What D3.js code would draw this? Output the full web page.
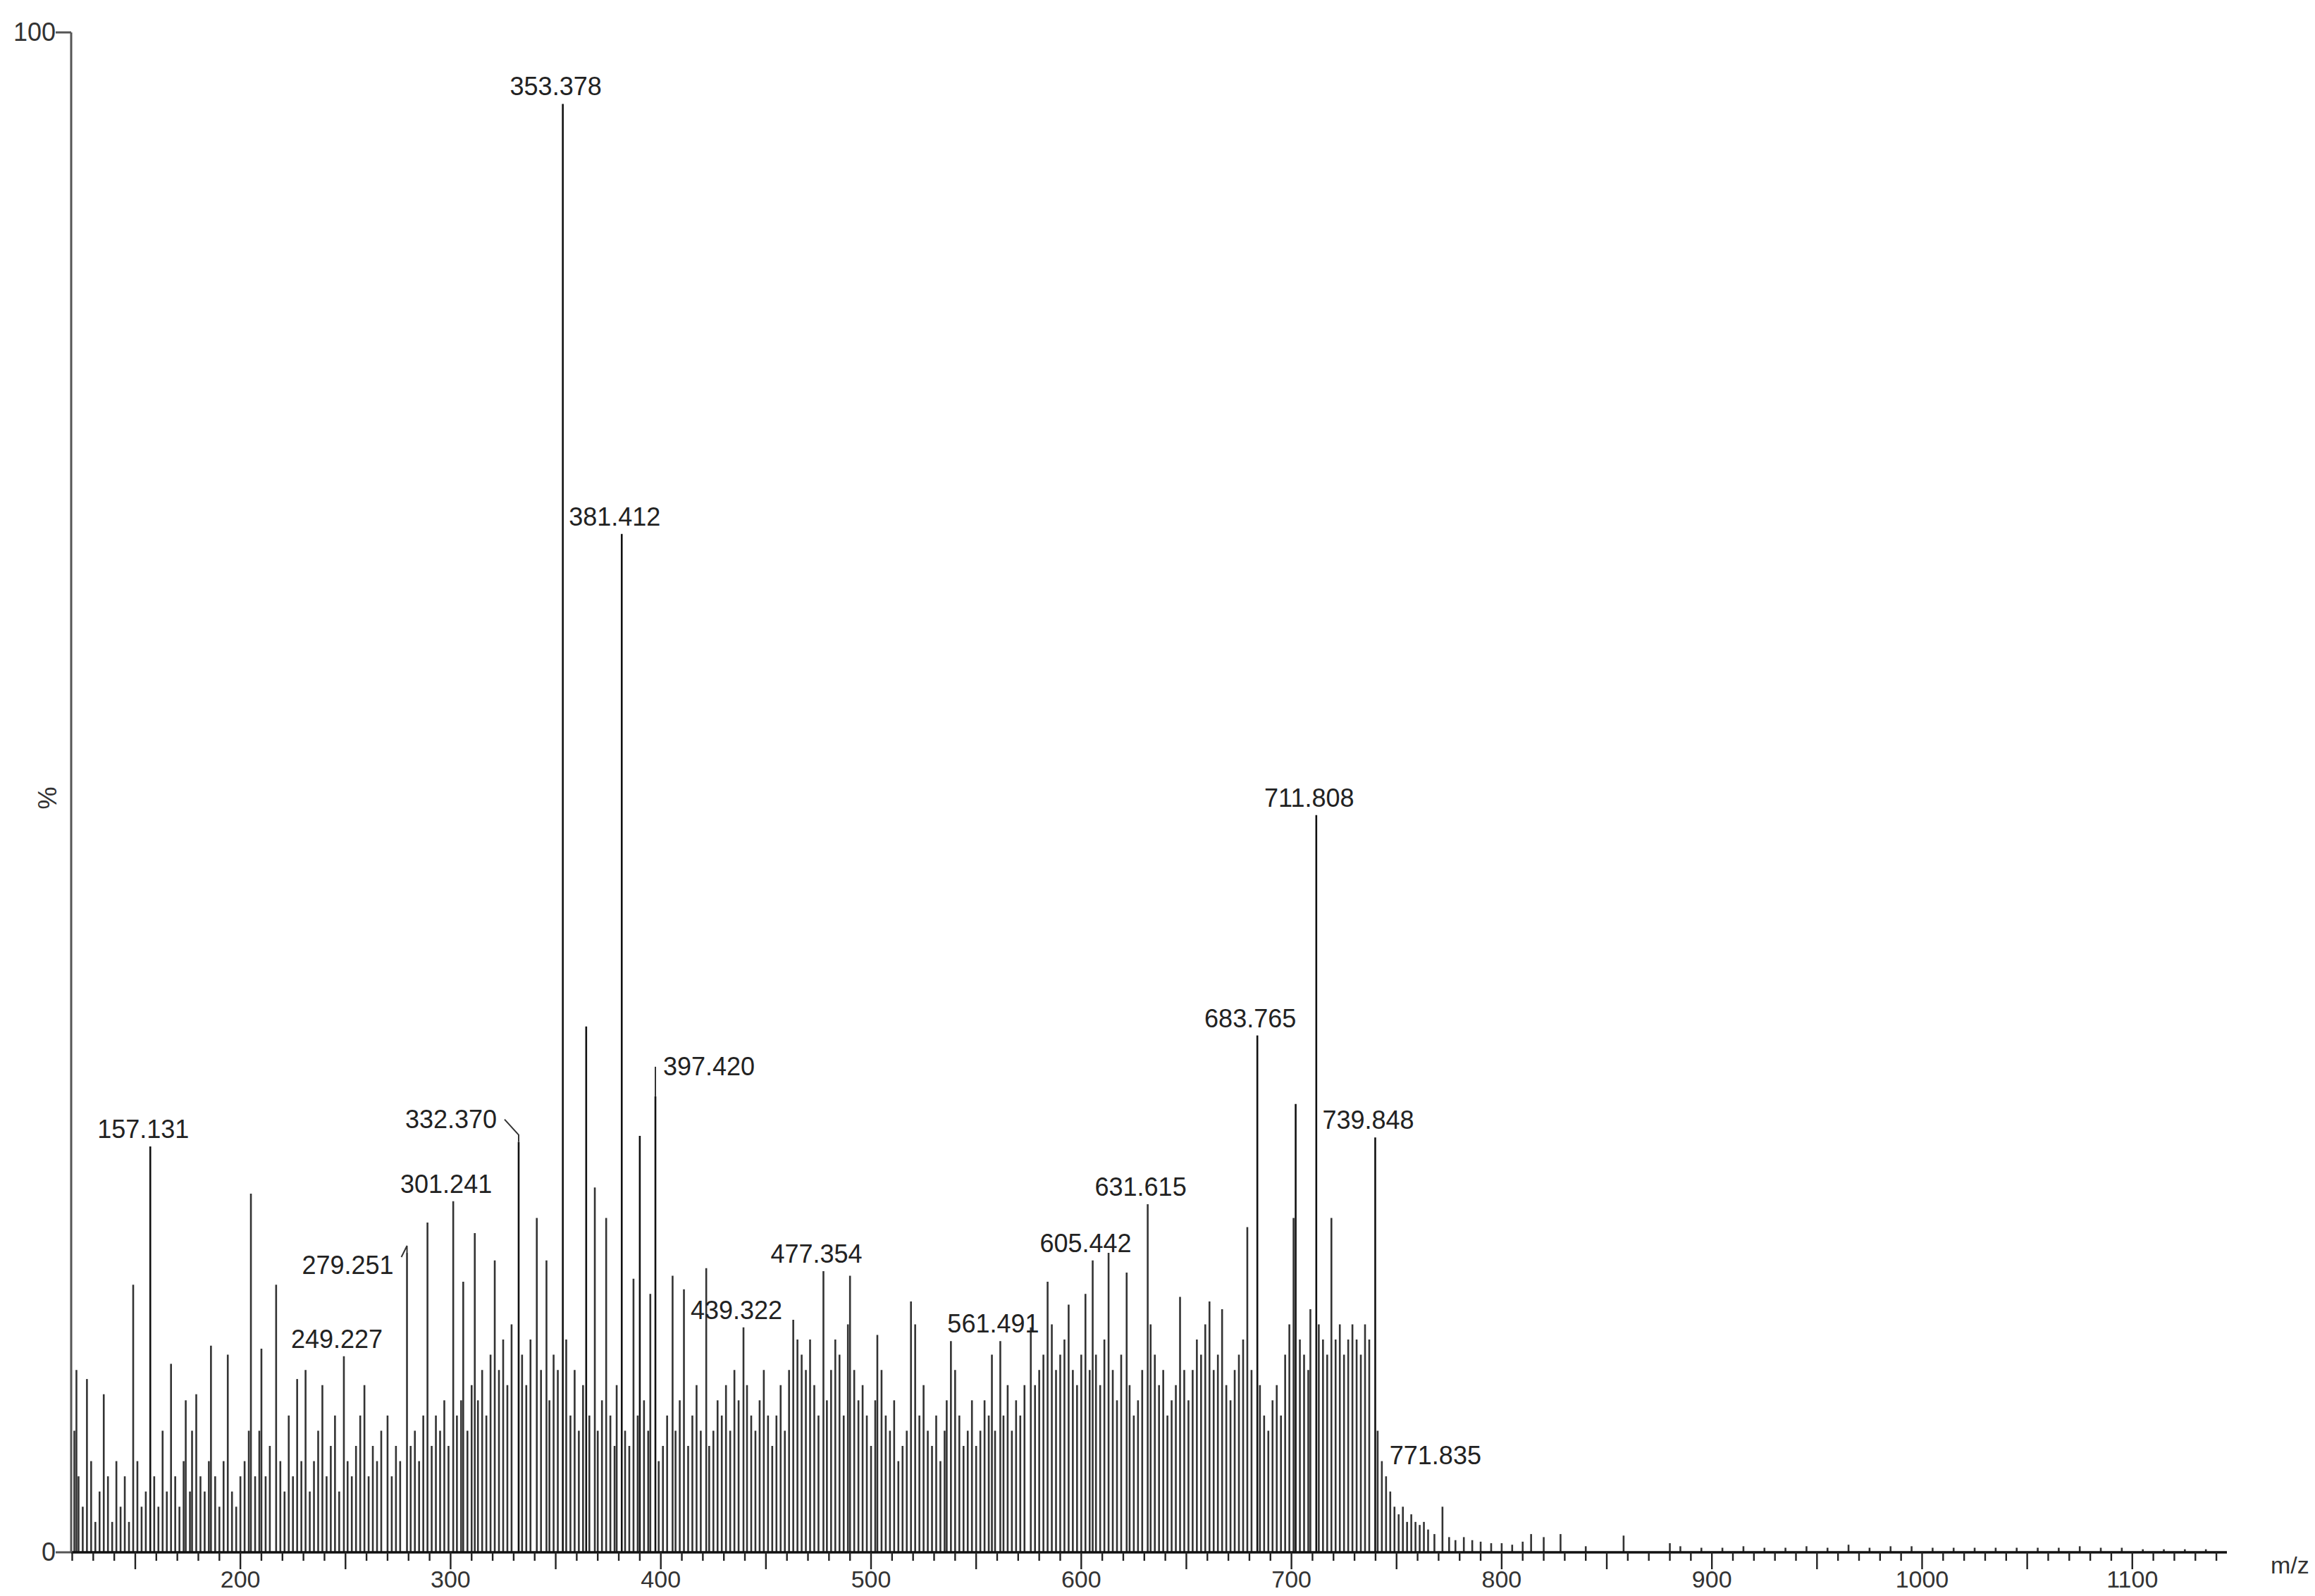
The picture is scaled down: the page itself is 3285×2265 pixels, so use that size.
<!DOCTYPE html>
<html>
<head>
<meta charset="utf-8">
<script src="https://cdn.jsdelivr.net/npm/d3@7"></script>
<style>
  body { margin: 0; background: #fff; }
  text { font-family: "Liberation Sans", Arial, sans-serif; }
</style>
</head>
<body>
<div class="chart"></div>
<script>
// peaks: [m/z, relative intensity %]
const peaks = [
  [121,8],[122,12],[123,5],[125,3],[127,11.4],[129,6],[131,2],[133,4],[135,10.4],[137,5],[139,2],[141,6],[143,3],[145,5],[147,2],
  [149,17.6],[151,6],[153,3],[155,4],[157.131,26.7],[159,5],[161,3],[163,8],[165,4],[167,12.4],[169,5],[171,3],[173,6],[174,10],
  [176,4],[177,8],[179,10.4],[181,5],[183,4],[185,6],[186,13.6],[188,5],[190,3],[192,6],[194,13],[196,4],[198,3],[200,5],
  [202,6],[204,8],[205,23.6],[207,5],[209,8],[210,13.4],[212,5],[214,7],[217,17.6],[219,6],[221,4],[223,9],[225,5],[227,11.4],
  [229,6],[231,12],[233,4],[235,6],[237,8],[239,11],[241,5],[243,7],[245,9],[247,4],[249.227,12.9],[251,6],[253,5],[255,7],
  [257,9],[259,11],[261,5],[263,7],[265,6],[267,8],[270,9],[272,5],[274,7],[276,6],[279.251,19.7],[281,7],[283,8],[285,6],
  [287,9],[289,21.7],[291,7],[293,9],[295,8],[297,10],[299,7],[301.241,23.1],
  [303,9],[305,10],[306,17.8],[308,8],[310,11],[311.5,21],[313,10],[315,12],[317,9],[319,13],[321,19.2],[323,12],[325,14],
  [327,11],[329,15],[332.37,27],[334,13],[336,11],[338,14],[341,22],[343,12],[345.6,19.2],[347,10],[349,13],[351,12],
  [353.378,95.3],[355,14],[357,9],[359,12],[361,8],[363,11],[364.5,34.6],[366,9],[368.6,24],[370,8],[372,10],[374,22],
  [376,9],[378,7],[379,11],[381.412,67],[383,8],[385,7],[387,18],[389,9],[390,27.4],[392,10],[394,8],[395,17],[397.42,30],[399,6],
  [401,7],[403,9],[405.6,18.2],[407,8],[409,10],[411,17.3],[413,7],[415,9],[417,11],[419,8],[421.6,18.7],[423,7],[425,8],
  [427,10],[429,9],[431,11],[433,8],[435,12],[437,10],[439.322,14.8],[441,11],[443,9],[445,8],[447,10],[449,12],[451,9],
  [453,7],[455,9],[457,11],[459,8],[461,12],[463,15.3],[465,14],[467,13],[469,12],[471,14],[473,11],[475,9],[477.354,18.5],
  [479,10],[481,12],[483,14],[485,13],[487,9],[489,15],[490,18.2],[492,12],[494,10],[496,11],[498,9],
  [500,7],[502,10],[503,14.3],[505,12],[507,9],[509,8],[511,10],[513,6],[515,7],[517,8],[519,16.5],[521,15],[523,9],[525,11],
  [527,8],[529,7],[531,9],[533,6],[535,8],[536,10],[538,13.9],[540,12],[542,9],[544,7],[546,8],[548,10],[550,7],[552,8],
  [554,10],[556,9],[557.5,13],[559,8],[561.491,13.9],[563,9],[565,11],[567,8],[569,10],[571,9],[573,11],[576,14.8],[578,11],
  [580,12],[582,13],[584,17.8],[586,15],[588,12],[590,13],[592,14],[594,16.3],[596,12],[598,11],
  [600,13],[602,17],[604,12],[605.442,19.2],[607,13],[609,11],[611,14],[613,19.7],[615,12],[617,10],[619,13],[621.6,18.4],
  [623,11],[625,9],[627,10],[629,12],[631.615,22.9],[633,15],[635,13],[637,11],[639,12],[641,9],[643,10],[645,11],[647,16.8],
  [649,12],[651,10],[653,12],[655,14],[657,13],[659,15],[661,16.5],[663,12],[665,13],[667,16],[669,11],[671,10],[673,12],
  [675,13],[677,14],[679,21.4],[681,12],[683.765,34],[685,11],[687,9],[689,8],[691,10],[693,11],[695,9],[697,13],[699,15],
  [701,22],[702,29.5],[704,14],[706,13],[708,12],[709,16],[711.808,48.5],[713,15],[715,14],[717,13],[719,22],[721,14],
  [723,15],[725,13],[727,14],[729,15],[731,14],[733,13],[735,15],[737,14],[739.848,27.3],[741,8],[743,6],[745,5],[747,4],
  [749,3],[751,2.5],[753,3],[755,2],[757,2.5],[759,2],[761,1.8],[763,2],[765,1.5],[768,1.2],[771.835,3],[775,1],[778,0.8],
  [782,1],[786,0.8],[790,0.7],[795,0.6],[800,0.6],[805,0.5],[810,0.7],[814,1.2],[820,1],[828,1.2],[840,0.4],[858,1.1],
  [880,0.6],[885,0.4],[895,0.3],[905,0.3],[915,0.4],[925,0.3],[935,0.3],[945,0.4],[955,0.3],[965,0.5],[975,0.3],[985,0.4],
  [995,0.4],[1005,0.3],[1015,0.3],[1025,0.3],[1035,0.3],[1045,0.3],[1055,0.3],[1065,0.3],[1075,0.4],[1085,0.3],[1095,0.3],
  [1105,0.2],[1115,0.2],[1125,0.2],[1135,0.2]
];
const labelledMz = [157.131,249.227,279.251,301.241,332.37,353.378,381.412,397.42,439.322,477.354,
  561.491,605.442,631.615,683.765,711.808,739.848,771.835];
const labelText = ["157.131","249.227","279.251","301.241","332.370","353.378","381.412","397.420","439.322","477.354",
  "561.491","605.442","631.615","683.765","711.808","739.848","771.835"];
const xTickLabels = [200,300,400,500,600,700,800,900,1000,1100];

const width = 3285, height = 2265;
const margin = { top: 46, left: 101, right: 125, bottom: 62 };
const svg = d3.select(".chart").append("svg").attr("width", width).attr("height", height);

const x = d3.scaleLinear().domain([119.5, 1145]).range([margin.left, width - margin.right]);
const y = d3.scaleLinear().domain([0, 100]).range([height - margin.bottom, margin.top]);
const y0 = y(0);

// peaks
svg.append("g").selectAll("line").data(peaks).enter().append("line")
  .attr("x1", d => x(d[0])).attr("x2", d => x(d[0]))
  .attr("y1", y0).attr("y2", d => y(d[1]))
  .attr("stroke", d => d[1] > 25 ? "#111" : "#333")
  .attr("stroke-width", 2.6);

// x axis
const minor = d3.range(120, 1141, 10);
const xg = svg.append("g");
xg.append("line").attr("x1", margin.left).attr("x2", x(1145)).attr("y1", y0).attr("y2", y0)
  .attr("stroke", "#111").attr("stroke-width", 3.5);
xg.selectAll(".tk").data(minor).enter().append("line")
  .attr("x1", d => x(d)).attr("x2", d => x(d))
  .attr("y1", y0).attr("y2", d => y0 + (d % 50 === 0 ? 24 : 12))
  .attr("stroke", "#222").attr("stroke-width", 2.4);
xg.selectAll(".lb").data(xTickLabels).enter().append("text")
  .attr("x", d => x(d)).attr("y", y0 + 50).attr("text-anchor", "middle")
  .attr("font-size", 34).attr("fill", "#333").text(d => d);
svg.append("text").attr("x", 3222).attr("y", y0 + 30).attr("font-size", 34).attr("fill", "#333").text("m/z");

// y axis
const yg = svg.append("g");
yg.append("line").attr("x1", margin.left).attr("x2", margin.left).attr("y1", y(100)).attr("y2", y0)
  .attr("stroke", "#555").attr("stroke-width", 3);
[0, 100].forEach(v => {
  yg.append("line").attr("x1", margin.left - 22).attr("x2", margin.left).attr("y1", y(v)).attr("y2", y(v))
    .attr("stroke", "#555").attr("stroke-width", 3);
  yg.append("text").attr("x", margin.left - 22).attr("y", y(v) + 12).attr("text-anchor", "end")
    .attr("font-size", 36).attr("fill", "#333").text(v);
});
yg.append("text").attr("transform", `translate(80,${(y(100) + y0) / 2 + 8}) rotate(-90)`)
  .attr("text-anchor", "middle").attr("font-size", 36).attr("fill", "#333").text("%");

// peak labels
const leaders = { "279.251": [-84, 30], "332.370": [-96, -20], "397.420": [76, -30] };
const ints = new Map(peaks.map(d => [d[0], d[1]]));
labelledMz.forEach((m, i) => {
  const t = labelText[i], px = x(m), py = y(ints.get(m));
  const lead = leaders[t];
  const dx = lead ? lead[0] : -10, dy = lead ? lead[1] : (t === "771.835" ? -60 : -12);
  svg.append("text").attr("x", px + dx).attr("y", py + dy).attr("text-anchor", "middle")
    .attr("font-size", 36).attr("fill", "#222").text(t);
  if (lead) {
    const ex = dx < 0 ? px + dx + 76 : px + dx - 76;
    const ey = t === "279.251" ? py + 6 : py + dy - 12;
    svg.append("polyline")
      .attr("points", `${px},${py} ${px},${py - 10} ${ex},${ey}`)
      .attr("fill", "none").attr("stroke", "#333").attr("stroke-width", 2);
  }
});
</script>
</body>
</html>
